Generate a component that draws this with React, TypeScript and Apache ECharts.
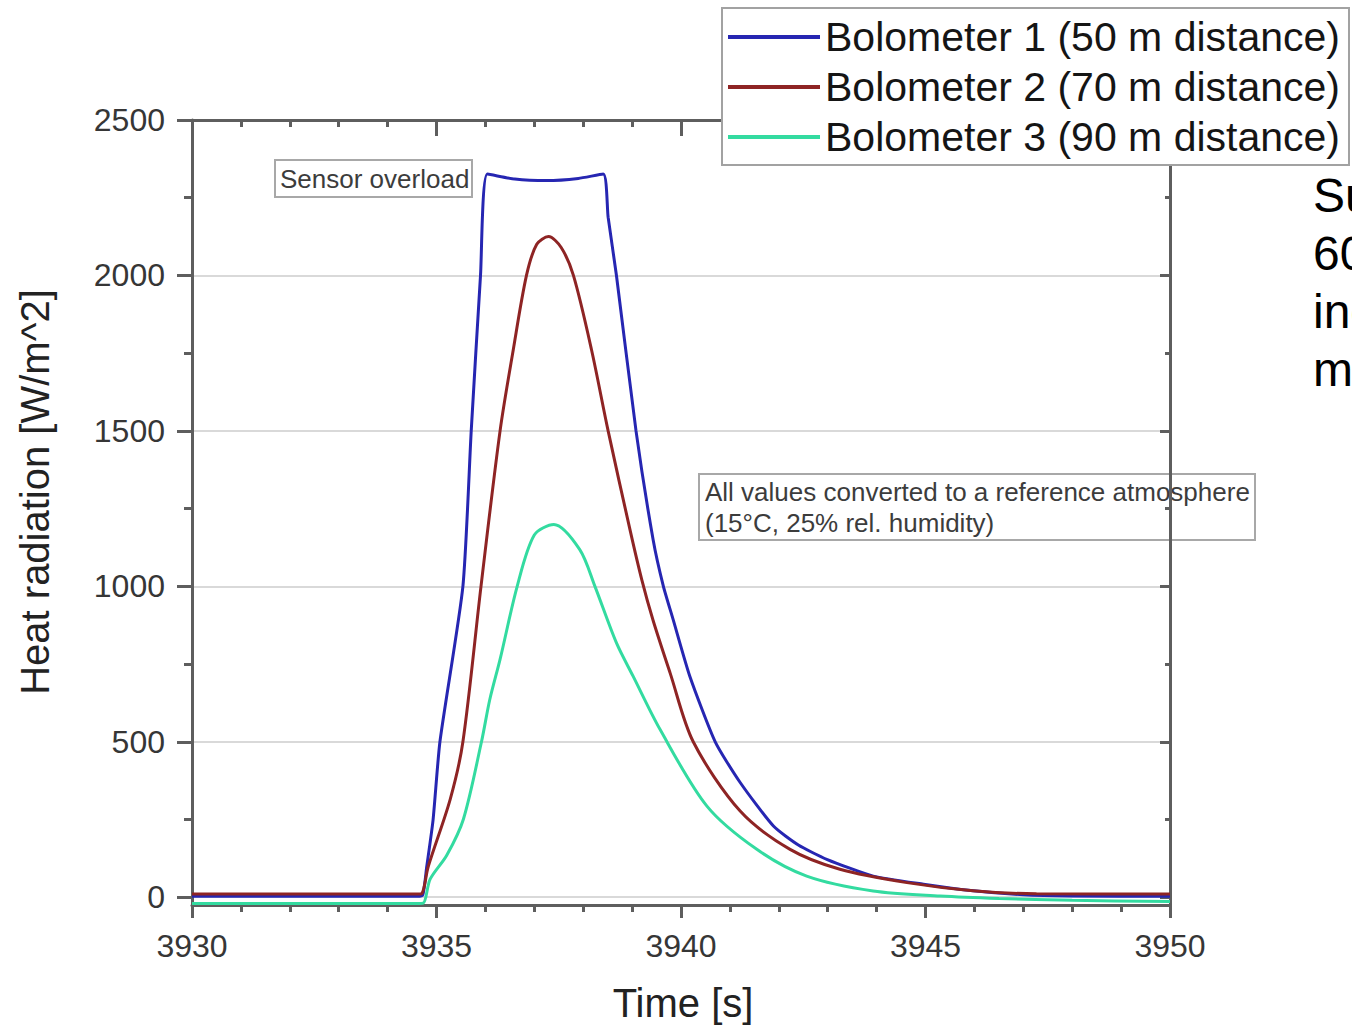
import React, { useEffect, useRef } from "react";
import * as echarts from "echarts";

const seriesNames = [
  "Bolometer 1 (50 m distance)",
  "Bolometer 2 (70 m distance)",
  "Bolometer 3 (90 m distance)",
];
const seriesColors = ["#2626b2", "#8e2424", "#33dba0"];

const blueTime = [3930, 3934.6, 3934.72, 3934.8, 3934.93, 3935.07, 3935.54, 3935.71, 3935.9, 3936.04, 3936.6, 3937.25, 3937.9, 3938.41, 3938.51, 3938.68, 3939.08, 3939.43, 3939.64, 3939.84, 3940.18, 3940.7, 3941.21, 3941.89, 3942.4, 3942.98, 3943.93, 3944.96, 3945.98, 3947, 3948, 3950];
const blueValues = [3, 3, 8, 98, 249, 500, 1000, 1500, 2000, 2326, 2310, 2305, 2312, 2326, 2187, 2000, 1500, 1150, 1000, 893, 711, 500, 369, 229, 168, 122, 68, 42, 21, 8, 4, 3];

const redTime = [3930, 3934.6, 3934.7, 3934.83, 3935.28, 3935.54, 3935.91, 3936.3, 3936.57, 3936.84, 3937.05, 3937.29, 3937.55, 3937.8, 3938.17, 3938.51, 3938.96, 3939.2, 3939.43, 3939.78, 3940.25, 3941.21, 3942.23, 3943.25, 3944.62, 3945.97, 3947.27, 3950];
const redValues = [10, 10, 12, 98, 315, 500, 1000, 1500, 1761, 2000, 2100, 2125, 2090, 2000, 1761, 1500, 1180, 1020, 890, 720, 500, 277, 154, 90, 47, 21, 11, 10];

const greenTime = [3930, 3934.6, 3934.73, 3934.87, 3935.21, 3935.55, 3935.92, 3936.09, 3936.3, 3936.65, 3937.0, 3937.4, 3937.93, 3938.24, 3938.68, 3939.02, 3939.57, 3940.53, 3941.55, 3942.57, 3943.93, 3945.3, 3946.5, 3948, 3950];
const greenValues = [-20, -20, -19, 58, 135, 251, 500, 636, 765, 1000, 1165, 1199, 1118, 1000, 818, 711, 540, 293, 154, 68, 20, 4, -4, -10, -14];

const yMajorTicks = [0, 500, 1000, 1500, 2000, 2500];
const yMinorTicks = [250, 750, 1250, 1750, 2250];
const xMajorTicks = [3930, 3935, 3940, 3945, 3950];
const xMinorTicks = [3931, 3932, 3933, 3934, 3936, 3937, 3938, 3939, 3941, 3942, 3943, 3944, 3946, 3947, 3948, 3949];

const xTitle = "Time [s]";
const yTitle = "Heat radiation [W/m^2]";
const overloadNote = "Sensor overload";
const atmosphereNote = "All values converted to a reference atmosphere\n(15°C, 25% rel. humidity)";
const sideText = "Su\n60\ninc\nm";

const FONT = "Liberation Sans, Arial, sans-serif";
const AXIS_COLOR = "#5e5e5e";

function zip(t: number[], v: number[]) {
  return t.map((x, i) => [x, v[i]]);
}

export default function App() {
  const ref = useRef<HTMLDivElement>(null);
  useEffect(() => {
    if (!ref.current) return;
    const chart = echarts.init(ref.current, undefined, { renderer: "svg" });
    const yBase = { type: "value", min: -25, max: 2500 };
    const xBase = { type: "value", min: 3930, max: 3950 };
    const hidden = { show: false };
    const plain = (v: number) => String(v);
    chart.setOption({
      animation: false,
      backgroundColor: "#ffffff",
      textStyle: { fontFamily: FONT },
      grid: { left: 192, right: 182, top: 120, bottom: 122, containLabel: false },
      legend: {
        orient: "vertical",
        left: 722,
        top: 8,
        padding: [4, 9, 3, 6],
        itemGap: 0,
        itemWidth: 92,
        itemHeight: 4,
        itemTextGap: 13,
        icon: "rect",
        borderColor: "#a2a2a2",
        borderWidth: 2,
        backgroundColor: "#ffffff",
        textStyle: { fontSize: 41, color: "#151515", lineHeight: 50, fontFamily: FONT },
        data: seriesNames,
      },
      xAxis: [
        {
          ...xBase,
          position: "bottom",
          interval: 5,
          axisLine: { show: true, onZero: false, lineStyle: { color: AXIS_COLOR, width: 3 } },
          axisTick: { show: true, length: 13, lineStyle: { color: AXIS_COLOR, width: 3 } },
          axisLabel: { show: true, margin: 25, fontSize: 32, color: "#363636", fontFamily: FONT, formatter: plain },
          splitLine: hidden,
        },
        {
          ...xBase,
          position: "bottom",
          axisLine: { show: false, onZero: false },
          axisTick: { show: true, length: 7, customValues: xMinorTicks, lineStyle: { color: AXIS_COLOR, width: 3 } },
          axisLabel: { show: false, customValues: xMinorTicks },
          splitLine: hidden,
        },
        {
          ...xBase,
          position: "top",
          axisLine: { show: true, onZero: false, lineStyle: { color: AXIS_COLOR, width: 3 } },
          axisTick: { show: true, inside: true, length: 16, customValues: xMajorTicks, lineStyle: { color: AXIS_COLOR, width: 3 } },
          axisLabel: { show: false, customValues: xMajorTicks },
          splitLine: hidden,
        },
        {
          ...xBase,
          position: "top",
          axisLine: { show: false, onZero: false },
          axisTick: { show: true, inside: true, length: 7, customValues: xMinorTicks, lineStyle: { color: AXIS_COLOR, width: 3 } },
          axisLabel: { show: false, customValues: xMinorTicks },
          splitLine: hidden,
        },
      ],
      yAxis: [
        {
          ...yBase,
          position: "left",
          axisLine: { show: true, onZero: false, lineStyle: { color: AXIS_COLOR, width: 3 } },
          axisTick: { show: true, length: 15, customValues: yMajorTicks, lineStyle: { color: AXIS_COLOR, width: 3 } },
          axisLabel: { show: true, margin: 27, fontSize: 32, color: "#363636", fontFamily: FONT, customValues: yMajorTicks, formatter: plain },
          splitLine: { show: true, lineStyle: { color: "#d9d9d9", width: 2 } },
        },
        {
          ...yBase,
          position: "left",
          axisLine: { show: false, onZero: false },
          axisTick: { show: true, length: 8, customValues: yMinorTicks, lineStyle: { color: AXIS_COLOR, width: 3 } },
          axisLabel: { show: false, customValues: yMinorTicks },
          splitLine: hidden,
        },
        {
          ...yBase,
          position: "right",
          axisLine: { show: true, onZero: false, lineStyle: { color: AXIS_COLOR, width: 3 } },
          axisTick: { show: true, inside: true, length: 10, customValues: yMajorTicks, lineStyle: { color: AXIS_COLOR, width: 3 } },
          axisLabel: { show: false, customValues: yMajorTicks },
          splitLine: hidden,
        },
        {
          ...yBase,
          position: "right",
          axisLine: { show: false, onZero: false },
          axisTick: { show: true, inside: true, length: 5, customValues: yMinorTicks, lineStyle: { color: AXIS_COLOR, width: 3 } },
          axisLabel: { show: false, customValues: yMinorTicks },
          splitLine: hidden,
        },
      ],
      series: [
        { name: seriesNames[0], data: zip(blueTime, blueValues), smooth: 0.2 },
        { name: seriesNames[1], data: zip(redTime, redValues), smooth: 0.3 },
        { name: seriesNames[2], data: zip(greenTime, greenValues), smooth: 0.3 },
      ].map((s, i) => ({
        type: "line",
        xAxisIndex: 0,
        yAxisIndex: 0,
        showSymbol: false,
        symbol: "none",
        clip: true,
        color: seriesColors[i],
        lineStyle: { color: seriesColors[i], width: 3 },
        ...s,
      })),
      graphic: [
        {
          type: "group",
          children: [
            {
              type: "rect",
              shape: { x: 275, y: 160, width: 197, height: 37 },
              style: { fill: "#ffffff", stroke: "#a8a8a8", lineWidth: 2 },
            },
            {
              type: "text",
              x: 280,
              y: 179,
              style: { text: overloadNote, font: `26px ${FONT}`, fill: "#3c3c3c", verticalAlign: "middle", align: "left" },
            },
            {
              type: "rect",
              shape: { x: 699, y: 474, width: 556, height: 66 },
              style: { fill: "#ffffff", stroke: "#a8a8a8", lineWidth: 2 },
            },
            {
              type: "text",
              x: 705,
              y: 507,
              style: { text: atmosphereNote, font: `26px ${FONT}`, lineHeight: 31, fill: "#3c3c3c", verticalAlign: "middle", align: "left" },
            },
            {
              type: "text",
              x: 683,
              y: 1003,
              style: { text: xTitle, font: `40px ${FONT}`, fill: "#222222", align: "center", verticalAlign: "middle" },
            },
            {
              type: "text",
              x: 35,
              y: 492,
              rotation: Math.PI / 2,
              style: { text: yTitle, font: `40px ${FONT}`, fill: "#222222", align: "center", verticalAlign: "middle" },
            },
            {
              type: "text",
              x: 1313,
              y: 166,
              style: { text: sideText, font: `48px ${FONT}`, lineHeight: 58, fill: "#000000", align: "left", verticalAlign: "top" },
            },
          ],
        },
      ],
    });
    return () => chart.dispose();
  }, []);
  return (
    <div
      ref={ref}
      style={{ position: "absolute", left: 0, top: 0, width: 1352, height: 1027, background: "#fff" }}
    />
  );
}
